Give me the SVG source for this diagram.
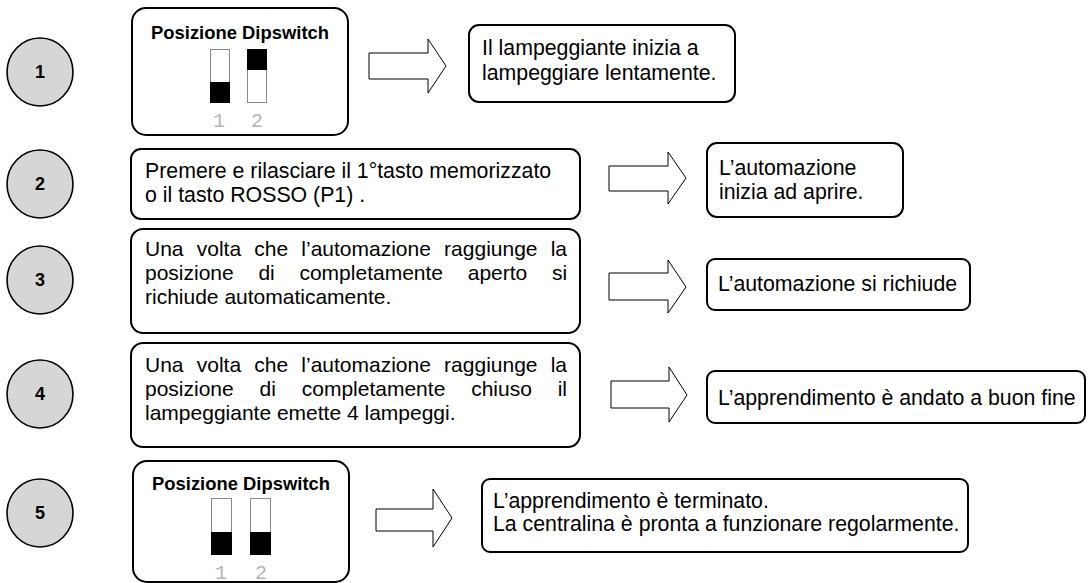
<svg xmlns="http://www.w3.org/2000/svg" width="1089" height="583" viewBox="0 0 1089 583">
<style>
.bg{fill:#ffffff}
.step{fill:#d6d6d6;stroke:#000;stroke-width:1.6}
.num{font-family:"Liberation Sans",Arial,sans-serif;font-weight:bold;font-size:18px;fill:#000;text-anchor:middle}
.box{fill:#fff;stroke:#000;stroke-width:2}
.t{font-family:"Liberation Sans",Arial,sans-serif;fill:#000}
.title{font-family:"Liberation Sans",Arial,sans-serif;font-weight:bold;fill:#000}
.sw{fill:#fff;stroke:#8a8a8a;stroke-width:1}
.knob{fill:#000}
.swl{font-family:"Liberation Mono","Courier New",monospace;font-size:20px;fill:#b4b4b4;text-anchor:middle}
.arr{fill:#fff;stroke:#000;stroke-width:1}
</style>
<rect class="bg" x="0" y="0" width="1089" height="583"/>

<g id="step1">
<ellipse class="step" cx="40" cy="72" rx="33" ry="34"/>
<text class="num" x="40" y="78">1</text>
</g>
<g id="step2">
<ellipse class="step" cx="40" cy="184" rx="33" ry="34"/>
<text class="num" x="40" y="190">2</text>
</g>
<g id="step3">
<ellipse class="step" cx="40" cy="280" rx="33" ry="34"/>
<text class="num" x="40" y="286">3</text>
</g>
<g id="step4">
<ellipse class="step" cx="40" cy="394" rx="33" ry="34"/>
<text class="num" x="40" y="400">4</text>
</g>
<g id="step5">
<ellipse class="step" cx="40" cy="513" rx="33" ry="34"/>
<text class="num" x="40" y="519">5</text>
</g>

<g id="dip1">
<rect class="box" x="132" y="8" width="216" height="127" rx="14"/>
<text class="title" x="151" y="39" font-size="18" textLength="178" lengthAdjust="spacingAndGlyphs">Posizione Dipswitch</text>
<rect class="sw" x="210.5" y="49.5" width="19" height="53"/>
<rect class="knob" x="210" y="82" width="20" height="21"/>
<rect class="sw" x="247.5" y="49.5" width="19" height="53"/>
<rect class="knob" x="247" y="49" width="20" height="21"/>
<text class="swl" x="219" y="127">1</text>
<text class="swl" x="257" y="127">2</text>
</g>

<g id="res1">
<rect class="box" x="469" y="25" width="266" height="77" rx="10"/>
<text class="t" font-size="21.3" x="482" y="55">Il lampeggiante inizia a</text>
<text class="t" font-size="21.3" x="482" y="80">lampeggiare lentamente.</text>
</g>

<g id="act2">
<rect class="box" x="131" y="149" width="449" height="70" rx="10"/>
<text class="t" font-size="21.3" x="145" y="178">Premere e rilasciare il 1°tasto memorizzato</text>
<text class="t" font-size="21.3" x="145" y="202">o il tasto ROSSO (P1) .</text>
</g>

<g id="res2">
<rect class="box" x="707" y="143" width="196" height="74" rx="10"/>
<text class="t" font-size="21.3" x="719" y="175">L’automazione</text>
<text class="t" font-size="21.3" x="719" y="199">inizia ad aprire.</text>
</g>

<g id="act3">
<rect class="box" x="131" y="229" width="449" height="104" rx="12"/>
<text class="t" font-size="21" x="145" y="256" style="word-spacing:7.36px">Una volta che l’automazione raggiunge la</text>
<text class="t" font-size="21" x="145" y="280" style="word-spacing:18.85px">posizione di completamente aperto si</text>
<text class="t" font-size="21" x="145" y="304">richiude automaticamente.</text>
</g>

<g id="res3">
<rect class="box" x="707" y="259" width="263" height="51" rx="8"/>
<text class="t" font-size="21.3" x="718" y="291">L’automazione si richiude</text>
</g>

<g id="act4">
<rect class="box" x="131" y="343" width="449" height="104" rx="12"/>
<text class="t" font-size="21" x="145" y="372" style="word-spacing:7.36px">Una volta che l’automazione raggiunge la</text>
<text class="t" font-size="21" x="145" y="396" style="word-spacing:20px">posizione di completamente chiuso il</text>
<text class="t" font-size="21" x="145" y="420">lampeggiante emette 4 lampeggi.</text>
</g>

<g id="res4">
<rect class="box" x="707" y="371" width="378" height="52" rx="8"/>
<text class="t" font-size="21.3" x="718" y="405">L’apprendimento è andato a buon fine</text>
</g>

<g id="dip5">
<rect class="box" x="133" y="461" width="216" height="121" rx="14"/>
<text class="title" x="152" y="490" font-size="18" textLength="178" lengthAdjust="spacingAndGlyphs">Posizione Dipswitch</text>
<rect class="sw" x="211.5" y="498.5" width="20" height="56"/>
<rect class="knob" x="211" y="532" width="21" height="23"/>
<rect class="sw" x="250.5" y="498.5" width="20" height="56"/>
<rect class="knob" x="250" y="532" width="21" height="23"/>
<text class="swl" x="221" y="579">1</text>
<text class="swl" x="261" y="579">2</text>
</g>

<g id="res5">
<rect class="box" x="482" y="479" width="486" height="73" rx="8"/>
<text class="t" font-size="21.3" x="493" y="508">L’apprendimento è terminato.</text>
<text class="t" font-size="21.3" x="493" y="531">La centralina è pronta a funzionare regolarmente.</text>
</g>

<g id="connectors">
<polygon class="arr" points="369,53 428,53 428,39 446,66 428,93 428,79 369,79"/>
<polygon class="arr" points="609,166 668,166 668,152 686,178 668,204 668,191 609,191"/>
<polygon class="arr" points="609,273 668,273 668,260 686,287 668,313 668,300 609,300"/>
<polygon class="arr" points="611,381 669,381 669,367 687,395 669,422 669,408 611,408"/>
<polygon class="arr" points="376,509 433,509 433,489 452,518 433,547 433,531 376,531"/>
</g>
</svg>
